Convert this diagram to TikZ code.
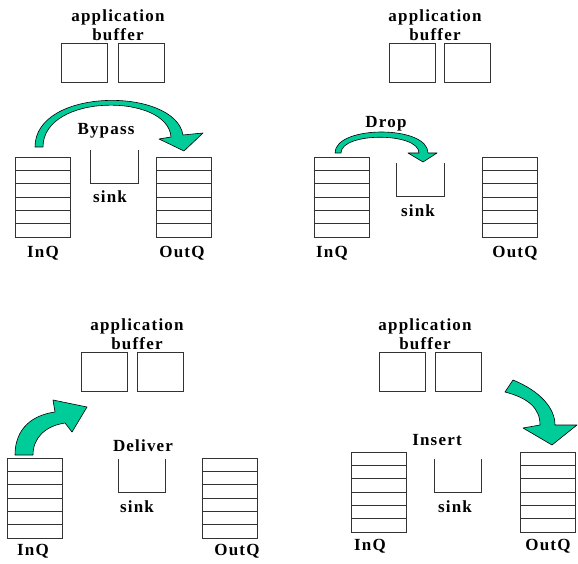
\documentclass[tikz,border=0pt]{standalone}
\usepackage{fontspec}
\setmainfont{Liberation Serif}
\newfontfamily\lblfont{Liberation Serif}[LetterSpace=7]
\definecolor{flowgreen}{HTML}{00CC99}

\begin{document}
\begin{tikzpicture}[x=1pt,y=1pt,
    lbl/.style={font=\lblfont\bfseries\fontsize{17}{19}\selectfont, inner sep=0pt, align=center},
    bufbox/.style={draw=black!80, line width=0.8pt, minimum width=46pt, minimum height=39pt, inner sep=0pt},
    queue/.style={draw=black!80, line width=0.8pt, minimum width=55pt, minimum height=80pt, inner sep=0pt,
      path picture={\foreach \k in {1,...,5}
        \draw[black!80, line width=0.8pt] ([yshift=\k*80pt/6]path picture bounding box.south west) -- ([yshift=\k*80pt/6]path picture bounding box.south east);}},
    sinkbox/.style={minimum width=47pt, minimum height=33pt, inner sep=0pt},
    flow/.style={fill=flowgreen, draw=black, line width=0.6pt, line join=round}]
    \fill[white] (0,0) rectangle (578,563);
    % bypass
    \node[lbl] (app1) at (118,537.5) {application\\buffer};
    \node[bufbox] (bufa1) at (84.5,500.5) {};
    \node[bufbox] (bufb1) at (141,500.5) {};
    \node[queue] (inq1) at (42.5,366) {};
    \node[sinkbox] (sk1) at (114.5,396.5) {};
    \node[queue] (outq1) at (183.5,366) {};
    \node[lbl] (skl1) at (110,366) {sink};
    \node[lbl] (inl1) at (43,310) {InQ};
    \node[lbl] (outl1) at (182,310) {OutQ};
    \node[lbl] (op1) at (106,432) {Bypass};
    % drop
    \node[lbl] (app2) at (435,537.5) {application\\buffer};
    \node[bufbox] (bufa2) at (412,500.5) {};
    \node[bufbox] (bufb2) at (467,500.5) {};
    \node[queue] (inq2) at (341.5,366) {};
    \node[sinkbox] (sk2) at (420.5,383) {};
    \node[queue] (outq2) at (509.5,366) {};
    \node[lbl] (skl2) at (418,352) {sink};
    \node[lbl] (inl2) at (332,310) {InQ};
    \node[lbl] (outl2) at (515,310) {OutQ};
    \node[lbl] (op2) at (386,439) {Drop};
    % deliver
    \node[lbl] (app3) at (137,229) {application\\buffer};
    \node[bufbox] (bufa3) at (104,191.5) {};
    \node[bufbox] (bufb3) at (160,191.5) {};
    \node[queue] (inq3) at (34.5,65) {};
    \node[sinkbox] (sk3) at (142,87.5) {};
    \node[queue] (outq3) at (229.5,65) {};
    \node[lbl] (skl3) at (137,56) {sink};
    \node[lbl] (inl3) at (33,12) {InQ};
    \node[lbl] (outl3) at (237,12) {OutQ};
    \node[lbl] (op3) at (143,117) {Deliver};
    % insert
    \node[lbl] (app4) at (425,229) {application\\buffer};
    \node[bufbox] (bufa4) at (402,191.5) {};
    \node[bufbox] (bufb4) at (458,191.5) {};
    \node[queue] (inq4) at (378.5,71) {};
    \node[sinkbox] (sk4) at (458,87.5) {};
    \node[queue] (outq4) at (547.5,71) {};
    \node[lbl] (skl4) at (455,56) {sink};
    \node[lbl] (inl4) at (370,17) {InQ};
    \node[lbl] (outl4) at (548,17) {OutQ};
    \node[lbl] (op4) at (437,123) {Insert};

    \foreach \s in {sk1,sk2,sk3,sk4}
      \draw[black!80, line width=0.8pt] (\s.north west) -- (\s.south west) -- (\s.south east) -- (\s.north east);

    \draw[flow] (35,416) .. controls (35,476) and (175,476) .. (183,428) -- (203,430) -- (184,412) -- (159,424) -- (171,426) .. controls (168,470) and (43,470) .. (43,416) -- cycle;
    \draw[flow] (335,410) .. controls (335,438) and (428,438) .. (428,410) -- (437,410) -- (423,401) -- (408,410) -- (419,410) .. controls (419,431) and (341,431) .. (341,410) -- cycle;
    \draw[flow] (15,108) .. controls (15,135) and (33,148) .. (55,151) -- (53,163) -- (87,156) -- (72,131) -- (65,140) .. controls (45,137) and (33,125) .. (33,108) -- cycle;
    \draw[flow] (513,183) .. controls (540,172) and (555,155) .. (555,138) -- (577,138) -- (552,118) -- (523,135) -- (540,138) .. controls (540,155) and (528,165) .. (505,171) -- cycle;
\end{tikzpicture}
\end{document}
